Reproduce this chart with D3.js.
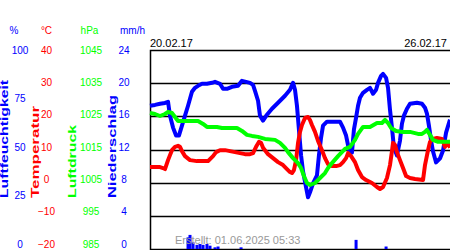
<!DOCTYPE html>
<html>
<head>
<meta charset="utf-8">
<script src="https://cdn.jsdelivr.net/npm/d3@7"></script>
<style>
  body { margin: 0; background: #fff; }
  text { font-family: "Liberation Sans", Arial, sans-serif; }
</style>
</head>
<body>
<div id="chart"></div>
<script>
// time in hours since 20.02.17 00:00, 7 days shown
const humidity = [
  [0, 72], [2.8, 72.4], [5.6, 73], [8.4, 73.4], [10.1, 74], [11.2, 67], [12.9, 61], [14.6, 57],
  [16.2, 57], [17.9, 62], [19.6, 67], [21.3, 72], [22.4, 75.5], [23.5, 79], [25.2, 81], [26.9, 82],
  [29.1, 83], [31.9, 83], [34.7, 83.5], [36.4, 84], [39.2, 83], [40.9, 80.5], [43.1, 80.5], [45.9, 81.5],
  [49.3, 82], [51.5, 84.5], [53.8, 84], [56, 83.5], [57.7, 82.5], [58.8, 79.5], [60.5, 74.5], [61.6, 67],
  [63.3, 64.5], [65.5, 67.5], [68.3, 70.5], [71.7, 73.5], [75.6, 77], [78.4, 80], [80.1, 83.5], [81.2, 80],
  [82.3, 72], [83.4, 60], [84.6, 47], [85.7, 39], [87.4, 31], [88.5, 26], [89.6, 28.5], [91.3, 33],
  [93.5, 37], [94.6, 47], [95.8, 56], [96.9, 62], [99.1, 64], [102.5, 64], [106.4, 64], [108.1, 61],
  [109.8, 57], [111.4, 50], [113.1, 48.5], [114.2, 60], [115.4, 66], [116.5, 72], [117.6, 76], [119.3, 78.5],
  [121.5, 80], [123.2, 81], [124.9, 78], [126.6, 80], [127.7, 83.5], [129.4, 87], [130.5, 88], [132.2, 86],
  [133.3, 81], [134.4, 70], [135.5, 61], [136.6, 51], [138.3, 47], [140, 54.5], [141.1, 63], [142.2, 67],
  [143.9, 70.5], [145.6, 73], [149.5, 73.5], [152.3, 73], [154, 71], [155.1, 68], [156.2, 62], [157.4, 54.5],
  [158.5, 49], [160.2, 43.5], [162.4, 45.5], [164.1, 49.5], [165.8, 58.5], [168, 65]
]
const temperature = [
  [0, 4.7], [2.8, 4.7], [5.6, 4.7], [7.3, 4.4], [8.4, 4.1], [10.1, 6.8], [11.2, 8.3], [12.3, 9.8],
  [14, 10.8], [15.7, 11.1], [16.8, 10.8], [17.9, 9.5], [19.6, 8], [22.4, 6.8], [26.3, 6.5], [30.8, 6.5],
  [32.5, 6.5], [33.6, 7.1], [35.3, 8], [37, 9.2], [39.2, 9.8], [42, 9.8], [44.8, 9.5], [47.6, 9.2],
  [50.4, 8.9], [53.2, 8.6], [56, 8.6], [57.7, 8.9], [59.4, 10.8], [61, 12.3], [62.2, 12], [63.3, 10.5],
  [66.1, 8.6], [68.9, 7.4], [71.7, 6.2], [74.5, 5.3], [76.7, 4.1], [78.4, 3.2], [79.5, 2.9], [80.6, 3.8],
  [81.8, 6.8], [82.9, 12], [84, 15.3], [85.1, 17.4], [86.8, 19.5], [88.5, 19.8], [89.6, 18.9], [90.7, 17.4],
  [92.4, 15.3], [94.1, 12.6], [96.3, 9.8], [98, 7.4], [99.7, 5.6], [101.9, 5], [104.2, 5], [106.4, 5.3],
  [108.1, 6.2], [109.8, 7.4], [110.9, 8.9], [112.6, 8], [114.8, 6.2], [116.5, 3.8], [118.7, 1.7], [121, 0.8],
  [124.3, -0.1], [127.1, -1.3], [128.8, -1.9], [130.5, -1.3], [132.7, 1.4], [134.4, 5.3], [135.5, 9.5], [136.1, 12],
  [137.2, 11.4], [138.3, 9.2], [140, 6.8], [141.7, 4.4], [143.4, 2], [145.6, 1.4], [148.4, 1.1], [152.9, 0.8],
  [154, 5.3], [155.7, 9.8], [156.8, 12.3], [158.5, 13.2], [160.7, 13.5], [163.5, 13.2], [165.2, 10.8], [166.9, 12],
  [168, 10.5]
]
const pressure = [
  [0, 1026], [2.8, 1025.7], [5.6, 1025.1], [8.4, 1025.7], [10.1, 1026.3], [12.3, 1026], [14, 1024.8], [15.7, 1023.6],
  [18.5, 1023.6], [22.4, 1023.6], [26.9, 1023.6], [29.7, 1022.7], [31.9, 1021.8], [37.5, 1021.8], [40.3, 1021.5], [48.7, 1021.5],
  [51.5, 1020.6], [54.3, 1019.4], [57.1, 1019.1], [60.5, 1018.8], [64.4, 1018.2], [70, 1017.9], [72.8, 1017], [75.6, 1015.5],
  [77.3, 1014.2], [80.1, 1012.4], [82.9, 1010.9], [84.6, 1009.4], [86.2, 1007], [87.9, 1004.9], [89.6, 1004.3], [92.4, 1004.9],
  [95.2, 1006.4], [98, 1007.9], [99.7, 1009.4], [101.9, 1010.9], [105.3, 1013], [109.2, 1015.2], [112, 1015.8], [114.8, 1017.9],
  [116.5, 1019.7], [119.3, 1021.8], [123.2, 1021.8], [127.1, 1023], [129.9, 1023], [131.6, 1023.9], [133.3, 1023], [135, 1021.5],
  [137.8, 1020.6], [141.7, 1020.3], [145.6, 1020.3], [150.1, 1019.7], [152.3, 1019.7], [154, 1020.3], [155.1, 1020.9], [156.8, 1019.4],
  [158.5, 1017.9], [161.3, 1017.3], [164.6, 1017.3], [168, 1017.3]
]
const precipitation = [
  [21.3, 1.4], [22.4, 1.7], [24.1, 0.8], [26.3, 0.5], [28, 0.6], [29.7, 0.5], [31.9, 0.6], [33.6, 0.4],
  [36.4, 0.2], [38.1, 0.3], [51, 0.2], [115.4, 1.1], [132.2, 0.3]
]

const humTicks = [0, 25, 50, 75, 100]
const tempTicks = [-20, -10, 0, 10, 20, 30, 40]
const presTicks = [985, 995, 1005, 1015, 1025, 1035, 1045]
const rainTicks = [0, 4, 8, 12, 16, 20, 24]
const startDate = '20.02.17'
const endDate = '26.02.17'
const created = 'Erstellt: 01.06.2025 05:33'

const WIDTH = 450
const HEIGHT = 250
const PLOT = {LEFT: 150, RIGHT: 450, TOP: 50, BOTTOM: 249}
const BLUE = '#0000ff', RED = '#ff0000', GREEN = '#00ff00'

const svg = d3.select('#chart').append('svg')
  .attr('width', WIDTH)
  .attr('height', HEIGHT)

const x = d3.scaleLinear().domain([0, 168]).range([PLOT.LEFT, PLOT.RIGHT])
// data scales share the plot height
const yHum = d3.scaleLinear().domain([0, 100]).range([PLOT.BOTTOM, PLOT.TOP])
const yTemp = d3.scaleLinear().domain([-20, 40]).range([PLOT.BOTTOM, PLOT.TOP])
const yPres = d3.scaleLinear().domain([985, 1045]).range([PLOT.BOTTOM, PLOT.TOP])
const yRain = d3.scaleLinear().domain([0, 24]).range([PLOT.BOTTOM, PLOT.TOP])

// the tick labels sit on a slightly shorter column than the plot
const labelRange = [244, 50]
function labelAxis(domain, ticks, cx, color) {
  const s = d3.scaleLinear().domain(domain).range(labelRange)
  const g = svg.append('g')
    .attr('transform', `translate(${cx},0)`)
    .call(d3.axisLeft(s).tickValues(ticks).tickFormat(d3.format('d')).tickSize(0).tickPadding(0))
  g.select('.domain').remove()
  g.selectAll('text')
    .attr('text-anchor', 'middle')
    .attr('fill', color)
    .style('font-size', '10px')
    .style('font-family', '"Liberation Sans", Arial, sans-serif')
}
labelAxis([0, 100], humTicks, 20, BLUE)
labelAxis([-20, 40], tempTicks, 46.5, RED)
labelAxis([985, 1045], presTicks, 91, GREEN)
labelAxis([0, 24], rainTicks, 124, BLUE)

// unit headers
const headers = [['%', 14, BLUE], ['°C', 46.5, RED], ['hPa', 89.5, GREEN], ['mm/h', 132.5, BLUE]]
svg.selectAll('.unit').data(headers).enter().append('text')
  .attr('x', d => d[1]).attr('y', 34)
  .attr('text-anchor', 'middle')
  .attr('fill', d => d[2])
  .style('font-size', '10px')
  .text(d => d[0])

// rotated axis titles, stretched like the original
const titles = [['Luftfeuchtigkeit', 7.5, 118, BLUE], ['Temperatur', 39, 92, RED],
                ['Luftdruck', 76, 73, GREEN], ['Niederschlag', 116, 103, BLUE]]
svg.selectAll('.title').data(titles).enter().append('text')
  .attr('transform', d => `translate(${d[1]},198) rotate(-90)`)
  .attr('textLength', d => d[2])
  .attr('lengthAdjust', 'spacingAndGlyphs')
  .attr('fill', d => d[3])
  .style('font-size', '10px')
  .style('font-weight', 'bold')
  .text(d => d[0])

// grid
svg.selectAll('.grid').data(tempTicks.slice(1, -1)).enter().append('line')
  .attr('x1', PLOT.LEFT).attr('x2', PLOT.RIGHT + 5)
  .attr('y1', d => Math.round(yTemp(d)) + 0.5).attr('y2', d => Math.round(yTemp(d)) + 0.5)
  .attr('stroke', '#000').attr('stroke-width', 1.5)

svg.append('rect')
  .attr('x', PLOT.LEFT + 0.5).attr('y', PLOT.TOP + 0.5)
  .attr('width', PLOT.RIGHT - PLOT.LEFT + 10).attr('height', PLOT.BOTTOM - PLOT.TOP)
  .attr('fill', 'none').attr('stroke', '#000').attr('stroke-width', 1.5)

// precipitation
svg.selectAll('.rain').data(precipitation).enter().append('rect')
  .attr('x', d => x(d[0]) - 1.5)
  .attr('y', d => yRain(d[1]))
  .attr('width', 3)
  .attr('height', d => yRain(0) - yRain(d[1]))
  .attr('fill', BLUE)

function drawLine(data, y, color) {
  svg.append('path')
    .datum(data)
    .attr('d', d3.line().x(d => x(d[0])).y(d => y(d[1])))
    .attr('fill', 'none')
    .attr('stroke', color)
    .attr('stroke-width', 4)
    .attr('stroke-linejoin', 'round')
}
drawLine(humidity, yHum, BLUE)
drawLine(temperature, yTemp, RED)
drawLine(pressure, yPres, GREEN)

// dates and footer
svg.append('text').attr('x', PLOT.LEFT).attr('y', 47)
  .style('font-size', '11px').text(startDate)
svg.append('text').attr('x', 447).attr('y', 47).attr('text-anchor', 'end')
  .style('font-size', '11px').text(endDate)
svg.append('text').attr('x', 175).attr('y', 244)
  .attr('fill', '#999')
  .style('font-size', '11px').text(created)
</script>
</body>
</html>
